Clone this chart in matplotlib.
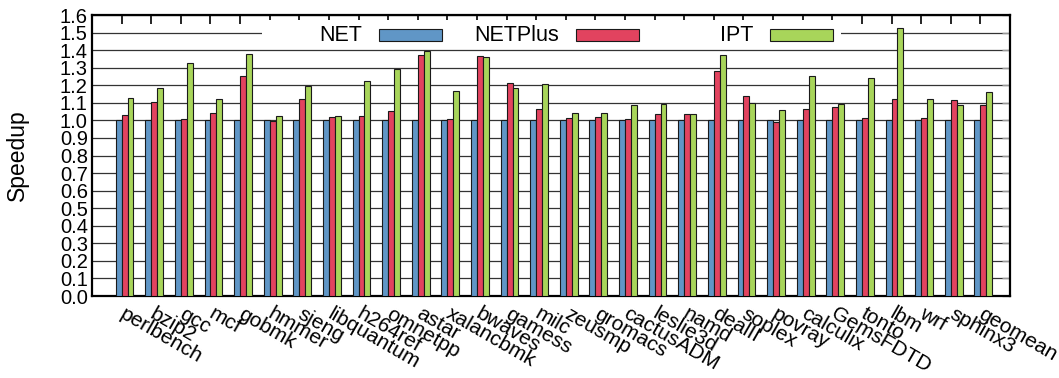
import matplotlib

matplotlib.use("Agg")
import matplotlib.pyplot as plt
from matplotlib.patches import Rectangle
import numpy as np

plt.rcParams["font.family"] = ["Liberation Sans", "DejaVu Sans"]

benchmarks = [
    "perlbench", "bzip2", "gcc", "mcf", "gobmk", "hmmer", "sjeng", "libquantum",
    "h264ref", "omnetpp", "astar", "xalancbmk", "bwaves", "gamess", "milc",
    "zeusmp", "gromacs", "cactusADM", "leslie3d", "namd", "dealII", "soplex",
    "povray", "calculix", "GemsFDTD", "tonto", "lbm", "wrf", "sphinx3", "geomean",
]
series_names = ["NET", "NETPlus", "IPT"]
net = [1.00] * len(benchmarks)
netplus = [
    1.032, 1.106, 1.010, 1.040, 1.253, 0.996, 1.120, 1.017,
    1.027, 1.051, 1.374, 1.010, 1.368, 1.211, 1.067,
    1.012, 1.021, 1.006, 1.034, 1.034, 1.281, 1.141,
    0.993, 1.065, 1.078, 1.015, 1.120, 1.012, 1.118, 1.089,
]
ipt = [
    1.129, 1.184, 1.328, 1.120, 1.380, 1.023, 1.198, 1.027,
    1.226, 1.291, 1.395, 1.169, 1.363, 1.186, 1.209,
    1.042, 1.042, 1.087, 1.095, 1.034, 1.372, 1.099,
    1.061, 1.253, 1.095, 1.241, 1.526, 1.124, 1.089, 1.161,
]
colors = ["#6096c6", "#e2435f", "#a8d55a"]
yticks = np.round(np.arange(0, 1.61, 0.1), 1)

fig = plt.figure(figsize=(10.59, 3.78), dpi=100)
ax = fig.add_axes([0.0869, 0.2169, 0.9537 - 0.0869, 0.9603 - 0.2169])

x = np.arange(len(benchmarks))
w = 0.2
for k, (vals, c) in enumerate(zip([net, netplus, ipt], colors)):
    ax.bar(x + (k - 0.5) * w, vals, width=w, color=c, edgecolor="#1a1a1a",
           linewidth=0.8, zorder=3)

ax.set_xlim(-1, 30)
ax.set_ylim(0, 1.6)
ax.set_yticks(yticks)
ax.set_yticklabels([f"{v:.1f}" for v in yticks])
ax.yaxis.grid(True, color="#333333", linewidth=0.9, zorder=0)
ax.set_axisbelow(True)

ax.set_xticks(x)
ax.set_xticklabels(benchmarks, rotation=-30, ha="left", va="center",
                   rotation_mode="anchor", fontsize=15)
ax.tick_params(axis="x", direction="in", top=True, bottom=False, length=6.5,
               width=1.2, pad=12)
ax.tick_params(axis="y", direction="in", left=False, right=True, length=6,
               width=1.0, color="#999999", labelsize=14.5, pad=3)
for s in ax.spines.values():
    s.set_linewidth(1.6)
ax.set_ylabel("Speedup", fontsize=16.5, labelpad=22)

# key: white panel over the top gridline, right-aligned names, swatches
ax.add_patch(Rectangle((0.1852, 0.893), 0.6307, 0.089, transform=ax.transAxes,
                       facecolor="white", edgecolor="none", zorder=1))
text_right = [0.2941, 0.5087, 0.7200]
for name, c, tx in zip(series_names, colors, text_right):
    ax.text(tx, 0.9288, name, transform=ax.transAxes, ha="right", va="center",
            fontsize=15.5, zorder=4)
    ax.add_patch(Rectangle((tx + 0.0185, 0.9075), 0.0686, 0.0427,
                           transform=ax.transAxes, facecolor=c,
                           edgecolor="#1a1a1a", linewidth=0.8, zorder=4))

fig.savefig("out.png", dpi=100)
